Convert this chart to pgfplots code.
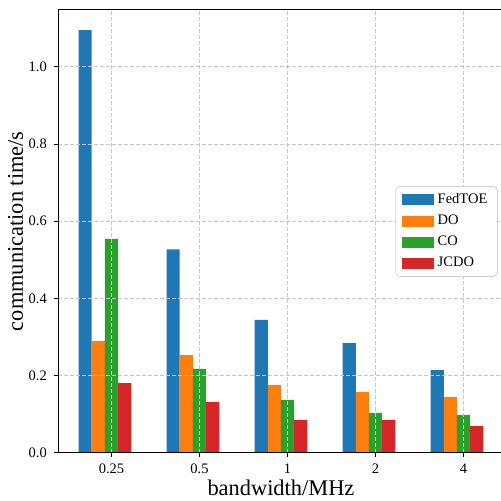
\documentclass[border=0pt]{standalone}
\usepackage{pgfplots}
\pgfplotsset{compat=1.18}
\usepackage{fontspec}
\setmainfont{Liberation Serif}
\definecolor{tabblue}{HTML}{1F77B4}
\definecolor{taborange}{HTML}{FF7F0E}
\definecolor{tabgreen}{HTML}{2CA02C}
\definecolor{tabred}{HTML}{D62728}

\pgfplotsset{
  mybar/.style={ybar, bar width=0.15, bar shift=0pt, draw=none, fill=#1,
    legend image code/.code={\fill[##1, sharp corners] (0pt,-2.75pt) rectangle (16pt,2.75pt);}},
}

\begin{document}
\begin{tikzpicture}
\begin{axis}[
  name=ax, at={(0,0)}, anchor=south west,
  scale only axis, width=222.65pt, height=221.5pt,
  xmin=-0.605, xmax=4.455, ymin=0, ymax=1.1477,
  xtick={0,1,2,3,4}, xticklabels={0.25,0.5,1,2,4},
  ytick={0,0.2,0.4,0.6,0.8,1.0},
  yticklabel style={/pgf/number format/fixed, /pgf/number format/fixed zerofill, /pgf/number format/precision=1},
  /pgf/number format/assume math mode=true,
  tick label style={font=\fontsize{7.25}{8.7}\selectfont, black},
  label style={font=\fontsize{11.2}{13}\selectfont},
  xlabel={bandwidth/MHz}, ylabel={communication time/s},
  xlabel style={yshift=4pt}, ylabel style={yshift=-4pt},
  tick align=outside, xtick pos=lower, ytick pos=left,
  major tick length=2.2pt, tick style={black, line width=0.4pt},
  axis line style={line width=0.5pt},
  grid=major, grid style={dashed, dash pattern=on 2pt off 1pt, gray!45, line width=0.4pt},
  axis on top,
  legend style={at={(0.987,0.602)}, anchor=north east, draw=gray!35,
    rounded corners=2pt, font=\fontsize{7.25}{8.7}\selectfont,
    cells={anchor=west}, row sep=0.2pt, inner xsep=3pt, inner ysep=1.5pt},
]
\addplot[mybar=tabblue] coordinates {(-0.3,1.095) (0.7,0.527) (1.7,0.344) (2.7,0.284) (3.7,0.214)};
\addlegendentry{FedTOE}
\addplot[mybar=taborange] coordinates {(-0.15,0.289) (0.85,0.253) (1.85,0.175) (2.85,0.157) (3.85,0.144)};
\addlegendentry{DO}
\addplot[mybar=tabgreen] coordinates {(0,0.554) (1,0.217) (2,0.137) (3,0.103) (4,0.098)};
\addlegendentry{CO}
\addplot[mybar=tabred] coordinates {(0.15,0.180) (1.15,0.131) (2.15,0.085) (3.15,0.085) (4.15,0.069)};
\addlegendentry{JCDO}
\draw[gray, line width=1pt] (axis cs:-0.605,0) -- (axis cs:4.455,0);
\end{axis}
\pgfresetboundingbox
\path[use as bounding box] ([xshift=-29.15pt,yshift=-23.65pt]ax.south west) rectangle ([xshift=221.35pt,yshift=226.35pt]ax.south west);
\end{tikzpicture}
\end{document}
